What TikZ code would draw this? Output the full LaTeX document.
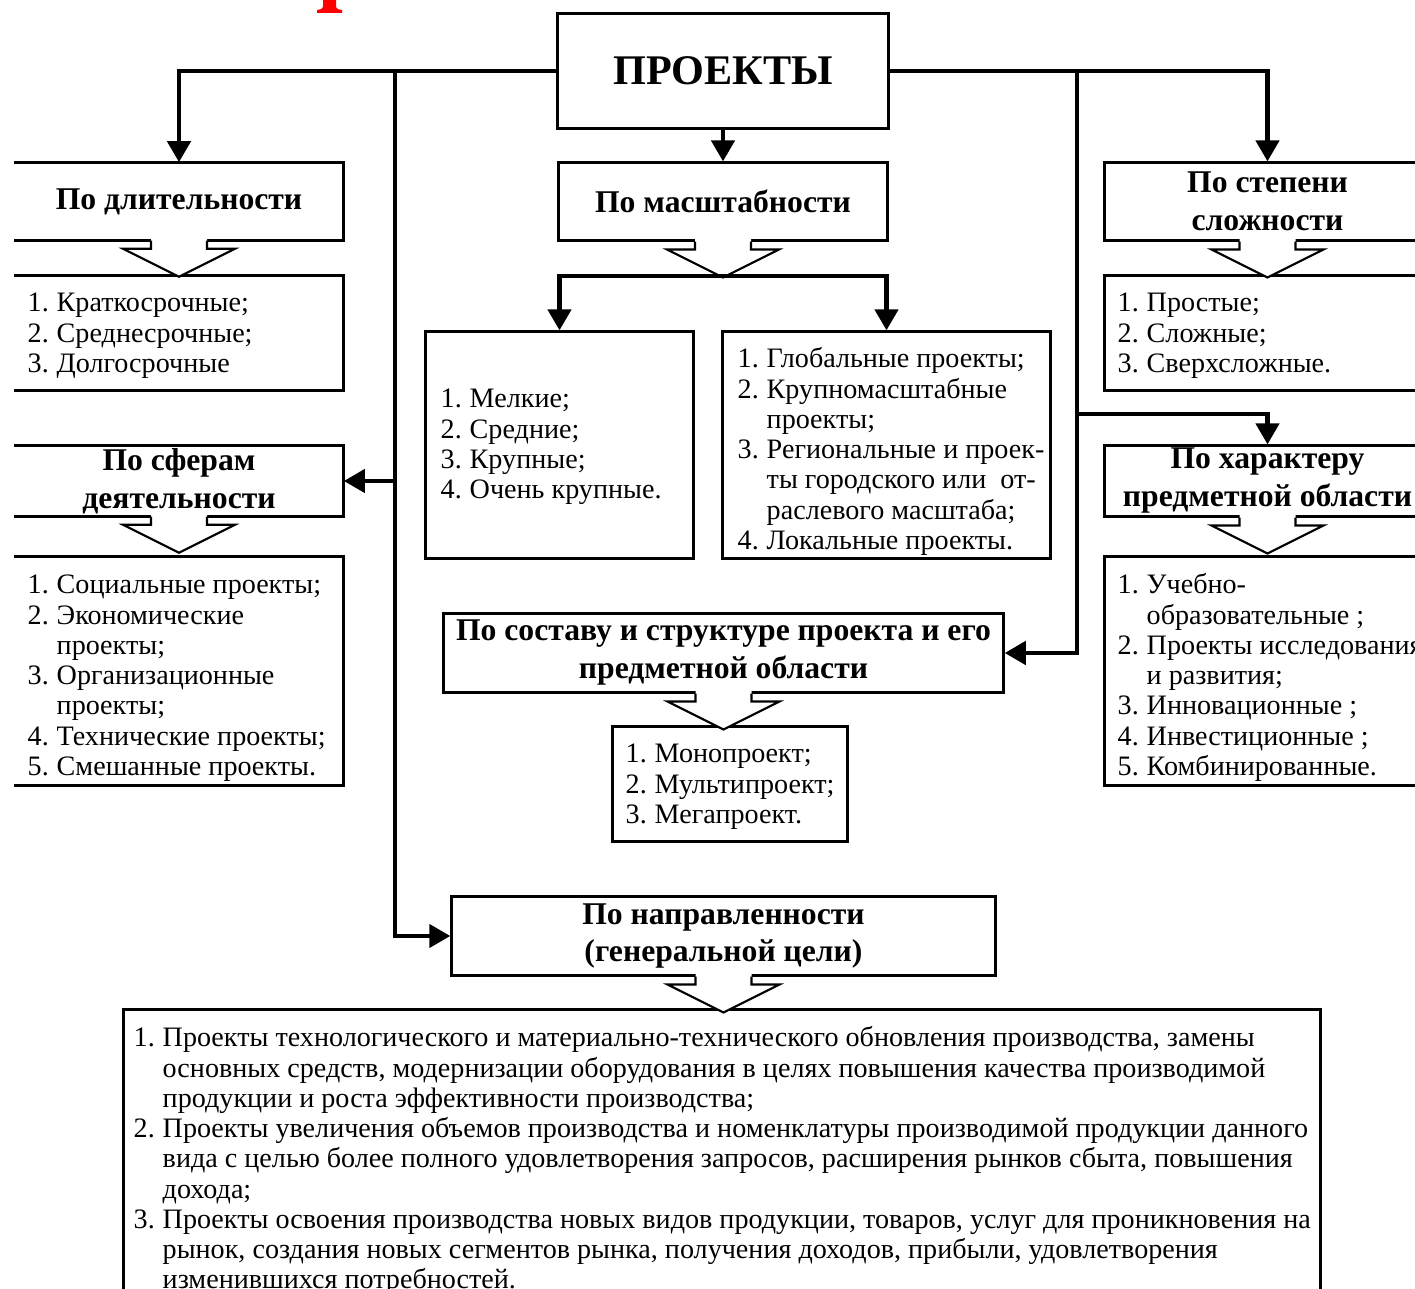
\documentclass[tikz,border=0pt]{standalone}
\usepackage{fontspec}
\setmainfont{Liberation Serif}
\usetikzlibrary{arrows.meta}

\tikzset{
  box/.style={draw, line width=0.85pt, inner sep=0pt},
  openbox/.style={inner sep=0pt},
  frame/.style={line width=0.85pt},
  head/.style={font=\bfseries\fontsize{9}{10.8}\selectfont, align=center},
  conn/.style={line width=1.4pt, -{Triangle[width=6.5pt,length=6pt]}},
  fatarrow/.pic={
    \fill[white] (-28,-3) -- (-28,8) -- (-56,8) -- (0,36) -- (56,8) -- (28,8) -- (28,-3) -- cycle;
    \draw[line width=0.6pt] (-28,0) -- (-28,8) -- (-56,8) -- (0,36) -- (56,8) -- (28,8) -- (28,0);
  }
}
\newcommand{\punkty}[1]{{\fontsize{8}{8.6}\selectfont
  \begin{tabular}[t]{@{}p{0.29cm}@{}l@{}}#1\end{tabular}}}

\begin{document}
\begin{tikzpicture}[x=0.01cm, y=-0.01cm]
\useasboundingbox (0,0) rectangle (1415,1289);
\clip (0,0) rectangle (1415,1289);

% red remnant of the heading above
\fill[red] (323,0) -- (336,0) -- (336,7) .. controls (337,9) .. (342,10) -- (342,13)
  -- (317,13) -- (317,10) .. controls (322,9) .. (323,7) -- cycle;

% root
\node[box, minimum width=3.30cm, minimum height=1.14cm,
  font=\bfseries\fontsize{12}{14}\selectfont] (root) at (723,71) {ПРОЕКТЫ};

% headings
\node[openbox, head, minimum width=3.28cm, minimum height=0.77cm] (dur) at (179,201.5) {По длительности};
\node[box, head, minimum width=3.29cm, minimum height=0.77cm] (scale) at (723,201.5) {По масштабности};
\node[box, head, minimum width=3.25cm, minimum height=0.77cm] (compl) at (1267.5,201.5) {По степени\\сложности};
\node[openbox, head, minimum width=3.28cm, minimum height=0.70cm] (sphere) at (179,481) {По сферам\\деятельности};
\node[box, head, minimum width=3.25cm, minimum height=0.70cm] (field) at (1267.5,481) {По характеру\\предметной области};
\node[box, head, minimum width=5.59cm, minimum height=0.78cm] (struct) at (723.5,653) {По составу и структуре проекта и его\\предметной области};
\node[box, head, minimum width=5.43cm, minimum height=0.78cm] (dir) at (723.5,936) {По направленности\\(генеральной цели)};

% list boxes
\node[openbox, minimum width=3.28cm, minimum height=1.14cm] (durlist) at (179,333) {};
\node[box, minimum width=2.67cm, minimum height=2.26cm] (small) at (559.5,445) {};
\node[box, minimum width=3.27cm, minimum height=2.26cm] (global) at (886.5,445) {};
\node[box, minimum width=3.25cm, minimum height=1.14cm] (compllist) at (1267.5,333) {};
\node[openbox, minimum width=3.28cm, minimum height=2.28cm] (spherelist) at (179,671) {};
\node[box, minimum width=3.25cm, minimum height=2.28cm] (fieldlist) at (1267.5,671) {};
\node[box, minimum width=2.34cm, minimum height=1.14cm] (structlist) at (730,784) {};
\node[box, minimum width=11.96cm, minimum height=2.90cm] (dirlist) at (722,1155) {};

\draw[frame] (dur.north west) -- (dur.north east) -- (dur.south east) -- (dur.south west);
\draw[frame] (sphere.north west) -- (sphere.north east) -- (sphere.south east) -- (sphere.south west);
\draw[frame] (durlist.north west) -- (durlist.north east) -- (durlist.south east) -- (durlist.south west);
\draw[frame] (spherelist.north west) -- (spherelist.north east) -- (spherelist.south east) -- (spherelist.south west);

% list texts
\node[anchor=base west, inner sep=0pt] (durtxt) at (27,312) {\punkty{1. & Краткосрочные;\\ 2. & Среднесрочные;\\ 3. & Долгосрочные}};
\node[anchor=base west, inner sep=0pt] (smalltxt) at (440,408) {\punkty{1. & Мелкие;\\ 2. & Средние;\\ 3. & Крупные;\\ 4. & Очень крупные.}};
\node[anchor=base west, inner sep=0pt] (globaltxt) at (737,368) {\punkty{1. & Глобальные проекты;\\ 2. & Крупномасштабные\\ & проекты;\\ 3. & Региональные и проек-\\ & ты городского или\ \ от-\\ & раслевого масштаба;\\ 4. & Локальные проекты.}};
\node[anchor=base west, inner sep=0pt] (compltxt) at (1117,312) {\punkty{1. & Простые;\\ 2. & Сложные;\\ 3. & Сверхсложные.}};
\node[anchor=base west, inner sep=0pt] (spheretxt) at (27,594) {\punkty{1. & Социальные проекты;\\ 2. & Экономические\\ & проекты;\\ 3. & Организационные\\ & проекты;\\ 4. & Технические проекты;\\ 5. & Смешанные проекты.}};
\node[anchor=base west, inner sep=0pt] (fieldtxt) at (1117,594) {\punkty{1. & Учебно-\\ & образовательные ;\\ 2. & Проекты исследования\\ & и развития;\\ 3. & Инновационные ;\\ 4. & Инвестиционные ;\\ 5. & Комбинированные.}};
\node[anchor=base west, inner sep=0pt] (structtxt) at (625,763) {\punkty{1. & Монопроект;\\ 2. & Мультипроект;\\ 3. & Мегапроект.}};
\node[anchor=base west, inner sep=0pt] (dirtxt) at (133,1047) {\punkty{1. & Проекты технологического и материально-технического обновления производства, замены\\
 & основных средств, модернизации оборудования в целях повышения качества производимой\\
 & продукции и роста эффективности производства;\\
 2. & Проекты увеличения объемов производства и номенклатуры производимой продукции данного\\
 & вида с целью более полного удовлетворения запросов, расширения рынков сбыта, повышения\\
 & дохода;\\
 3. & Проекты освоения производства новых видов продукции, товаров, услуг для проникновения на\\
 & рынок, создания новых сегментов рынка, получения доходов, прибыли, удовлетворения\\
 & изменившихся потребностей.}};

% hollow arrows
\pic at (dur.south) {fatarrow};
\pic at (scale.south) {fatarrow};
\pic at (compl.south) {fatarrow};
\pic at (sphere.south) {fatarrow};
\pic at (field.south) {fatarrow};
\pic at (struct.south) {fatarrow};
\pic at (dir.south) {fatarrow};

% connectors
\coordinate (lt) at (395,71);
\coordinate (rt) at (1077,71);
\coordinate (fork) at (1077,414);
\coordinate (split) at (723,276);

\draw[conn] (root) -| (dur);
\draw[conn] (root) -| (compl);
\draw[conn] (root) -- (scale);
\draw[conn] (lt) |- (dir);
\draw[conn] (lt |- sphere) -- (sphere);
\draw[conn] (rt) |- (struct);
\draw[conn] (fork) -| (field);
\draw[conn] (split) -| (small);
\draw[conn] (split) -| (global);
\end{tikzpicture}
\end{document}
